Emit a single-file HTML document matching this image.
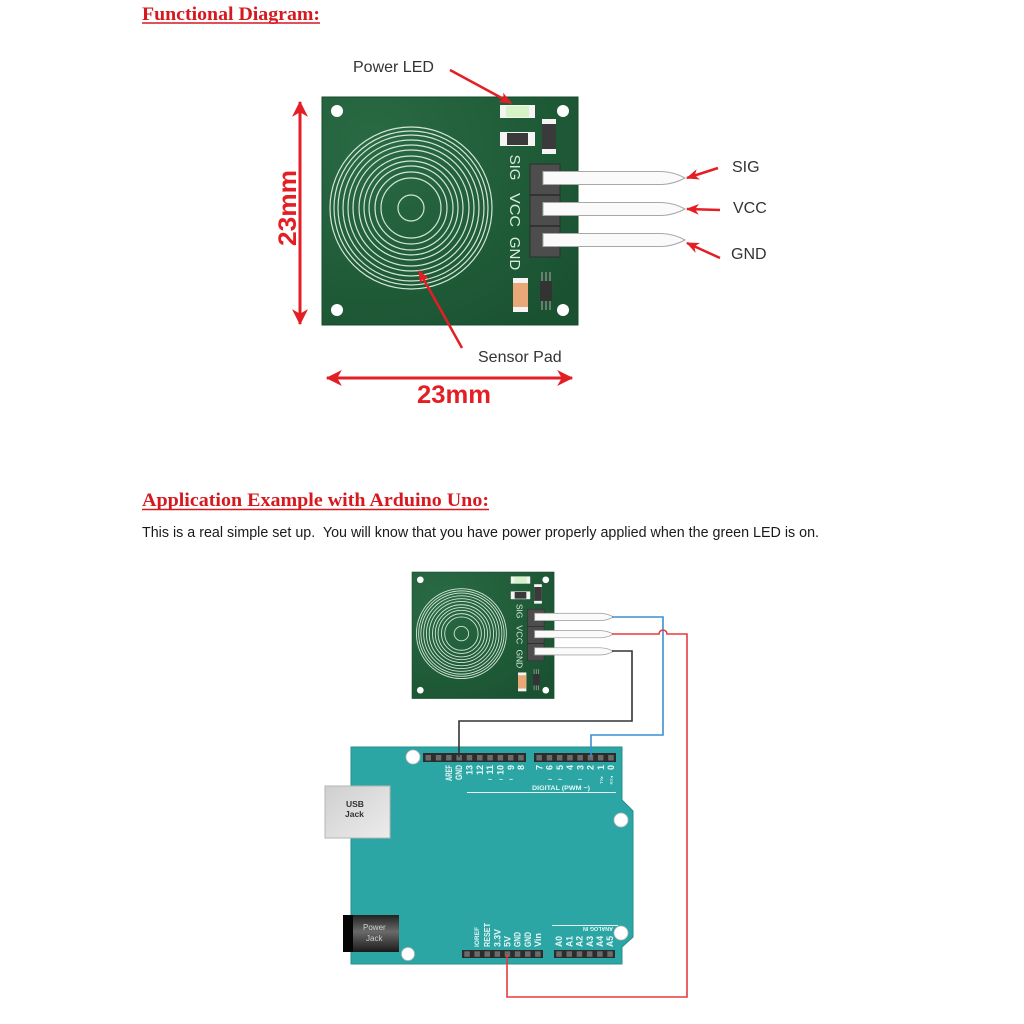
<!DOCTYPE html>
<html><head><meta charset="utf-8"><style>
html,body{margin:0;padding:0;background:#fff;}
svg{display:block;}
</style></head><body>
<svg width="1024" height="1024" viewBox="0 0 1024 1024" xmlns="http://www.w3.org/2000/svg">
<defs>
<radialGradient id="pcb" cx="0.2" cy="0.2" r="1">
<stop offset="0" stop-color="#296a43"/><stop offset="1" stop-color="#1a5231"/>
</radialGradient>
<linearGradient id="usb" x1="0" y1="0" x2="1" y2="1">
<stop offset="0" stop-color="#cfcfcf"/><stop offset="1" stop-color="#ececec"/>
</linearGradient>
<linearGradient id="pj" x1="0" y1="0" x2="0" y2="1">
<stop offset="0" stop-color="#222"/><stop offset="0.45" stop-color="#6a6a6a"/><stop offset="1" stop-color="#1a1a1a"/>
</linearGradient>
<marker id="ah" viewBox="0 0 12 10" refX="11" refY="5" markerWidth="13" markerHeight="11" markerUnits="userSpaceOnUse" orient="auto">
<path d="M0,0 L12,5 L0,10 L3.5,5 Z" fill="#e31e24"/>
</marker>
<marker id="dh" viewBox="0 0 14 14" refX="13" refY="7" markerWidth="16" markerHeight="16" markerUnits="userSpaceOnUse" orient="auto-start-reverse">
<path d="M0,0 L14,7 L0,14 L4,7 Z" fill="#e31e24"/>
</marker>
</defs>

<!-- Headings -->
<text x="142" y="20" font-family="Liberation Serif, serif" font-weight="bold" font-size="19" fill="#d7191f" textLength="178" lengthAdjust="spacingAndGlyphs">Functional Diagram:</text>
<line x1="142" y1="23" x2="320" y2="23" stroke="#d7191f" stroke-width="1.5"/>

<!-- Top board -->
<g transform="translate(322,97)">
<rect x="0" y="0" width="256" height="228" fill="url(#pcb)" stroke="#164a2b" stroke-width="1"/>
<circle cx="15" cy="14" r="6" fill="#fff"/><circle cx="241" cy="14" r="6" fill="#fff"/>
<circle cx="15" cy="213" r="6" fill="#fff"/><circle cx="241" cy="213" r="6" fill="#fff"/>
<g fill="none" stroke="#d3e6d8" stroke-width="1.2">
<circle cx="89" cy="111" r="13"/><circle cx="89" cy="111" r="30"/><circle cx="89" cy="111" r="36"/>
<circle cx="89" cy="111" r="42"/><circle cx="89" cy="111" r="47"/><circle cx="89" cy="111" r="52"/>
<circle cx="89" cy="111" r="58"/><circle cx="89" cy="111" r="63"/><circle cx="89" cy="111" r="68"/>
<circle cx="89" cy="111" r="73"/><circle cx="89" cy="111" r="77"/><circle cx="89" cy="111" r="81"/>
</g>
<rect x="178" y="8" width="35" height="13" fill="#f4f4f4"/>
<rect x="184" y="9" width="23" height="11" fill="#d6f3c8"/>
<rect x="178" y="35" width="35" height="14" fill="#f4f4f4"/>
<rect x="185" y="36" width="21" height="12" fill="#3a3a3a"/>
<rect x="220" y="22" width="14" height="35" fill="#f4f4f4"/>
<rect x="220" y="27" width="14" height="25" fill="#3a3a3a"/>
<rect x="208" y="67" width="30" height="93" fill="#4d4d4d" stroke="#2e2e2e"/>
<line x1="208" y1="98" x2="238" y2="98" stroke="#2b2b2b" stroke-width="1.5"/>
<line x1="208" y1="129" x2="238" y2="129" stroke="#2b2b2b" stroke-width="1.5"/>
<g fill="#fafafa" stroke="#a8a8a8" stroke-width="1">
<path d="M221,74.5 L340,74.5 Q352,75 363,81 Q352,87 340,87.5 L221,87.5 Z"/>
<path d="M221,105.5 L340,105.5 Q352,106 363,112 Q352,118 340,118.5 L221,118.5 Z"/>
<path d="M221,136.5 L340,136.5 Q352,137 363,143 Q352,149 340,149.5 L221,149.5 Z"/>
</g>
<g font-family="Liberation Sans, sans-serif" font-size="15" fill="#d8ecdc" text-anchor="middle">
<text transform="translate(188,70.5) rotate(90)">SIG</text>
<text transform="translate(188,113) rotate(90)" textLength="34" lengthAdjust="spacingAndGlyphs">VCC</text>
<text transform="translate(188,156.5) rotate(90)">GND</text>
</g>
<rect x="191" y="181" width="15" height="34" fill="#f4f4f4"/>
<rect x="191" y="186" width="15" height="24" fill="#e9a877"/>
<g stroke="#9a9a9a" stroke-width="1.2">
<line x1="220" y1="175" x2="220" y2="184"/><line x1="224" y1="175" x2="224" y2="184"/><line x1="228" y1="175" x2="228" y2="184"/>
<line x1="220" y1="204" x2="220" y2="213"/><line x1="224" y1="204" x2="224" y2="213"/><line x1="228" y1="204" x2="228" y2="213"/>
</g>
<rect x="218" y="184" width="12" height="20" fill="#333"/>
</g>

<!-- Dimension arrows -->
<line x1="300" y1="102" x2="300" y2="324" stroke="#e31e24" stroke-width="3" marker-start="url(#dh)" marker-end="url(#dh)"/>
<text transform="translate(296,208) rotate(-90)" text-anchor="middle" font-family="Liberation Sans, sans-serif" font-weight="bold" font-size="25" fill="#e31e24" textLength="76" lengthAdjust="spacingAndGlyphs">23mm</text>
<line x1="327" y1="378" x2="572" y2="378" stroke="#e31e24" stroke-width="3" marker-start="url(#dh)" marker-end="url(#dh)"/>
<text x="454" y="403" text-anchor="middle" font-family="Liberation Sans, sans-serif" font-weight="bold" font-size="25" fill="#e31e24" textLength="74" lengthAdjust="spacingAndGlyphs">23mm</text>

<!-- Labels -->
<g font-family="Liberation Sans, sans-serif" font-size="16" fill="#333">
<text x="353" y="72">Power LED</text>
<text x="478" y="362">Sensor Pad</text>
<text x="732" y="172">SIG</text>
<text x="733" y="213">VCC</text>
<text x="731" y="259">GND</text>
</g>
<g stroke="#e31e24" stroke-width="2.5" fill="none">
<line x1="450" y1="70" x2="511" y2="103" marker-end="url(#ah)"/>
<line x1="462" y1="348" x2="419" y2="271" marker-end="url(#ah)"/>
<line x1="718" y1="168" x2="687" y2="178" marker-end="url(#ah)"/>
<line x1="720" y1="210" x2="687" y2="209" marker-end="url(#ah)"/>
<line x1="720" y1="258" x2="687" y2="243" marker-end="url(#ah)"/>
</g>

<!-- Section 2 -->
<text x="142" y="506" font-family="Liberation Serif, serif" font-weight="bold" font-size="19" fill="#d7191f" textLength="347" lengthAdjust="spacingAndGlyphs">Application Example with Arduino Uno:</text>
<line x1="142" y1="509.5" x2="489" y2="509.5" stroke="#d7191f" stroke-width="1.5"/>
<text x="142" y="537" xml:space="preserve" font-family="Liberation Sans, sans-serif" font-size="14.5" fill="#1a1a1a" textLength="677" lengthAdjust="spacingAndGlyphs">This is a real simple set up.  You will know that you have power properly applied when the green LED is on.</text>

<!-- Small board -->
<g transform="translate(412,572) scale(0.555)">
<rect x="0" y="0" width="256" height="228" fill="url(#pcb)" stroke="#164a2b" stroke-width="1"/>
<circle cx="15" cy="14" r="6" fill="#fff"/><circle cx="241" cy="14" r="6" fill="#fff"/>
<circle cx="15" cy="213" r="6" fill="#fff"/><circle cx="241" cy="213" r="6" fill="#fff"/>
<g fill="none" stroke="#d3e6d8" stroke-width="1.6">
<circle cx="89" cy="111" r="13"/><circle cx="89" cy="111" r="30"/><circle cx="89" cy="111" r="36"/>
<circle cx="89" cy="111" r="42"/><circle cx="89" cy="111" r="47"/><circle cx="89" cy="111" r="52"/>
<circle cx="89" cy="111" r="58"/><circle cx="89" cy="111" r="63"/><circle cx="89" cy="111" r="68"/>
<circle cx="89" cy="111" r="73"/><circle cx="89" cy="111" r="77"/><circle cx="89" cy="111" r="81"/>
</g>
<rect x="178" y="8" width="35" height="13" fill="#f4f4f4"/>
<rect x="184" y="9" width="23" height="11" fill="#d6f3c8"/>
<rect x="178" y="35" width="35" height="14" fill="#f4f4f4"/>
<rect x="185" y="36" width="21" height="12" fill="#3a3a3a"/>
<rect x="220" y="22" width="14" height="35" fill="#f4f4f4"/>
<rect x="220" y="27" width="14" height="25" fill="#3a3a3a"/>
<rect x="208" y="67" width="30" height="93" fill="#4d4d4d" stroke="#2e2e2e"/>
<line x1="208" y1="98" x2="238" y2="98" stroke="#2b2b2b" stroke-width="1.5"/>
<line x1="208" y1="129" x2="238" y2="129" stroke="#2b2b2b" stroke-width="1.5"/>
<g fill="#fafafa" stroke="#a8a8a8" stroke-width="1.5">
<path d="M221,74.5 L340,74.5 Q352,75 363,81 Q352,87 340,87.5 L221,87.5 Z"/>
<path d="M221,105.5 L340,105.5 Q352,106 363,112 Q352,118 340,118.5 L221,118.5 Z"/>
<path d="M221,136.5 L340,136.5 Q352,137 363,143 Q352,149 340,149.5 L221,149.5 Z"/>
</g>
<g font-family="Liberation Sans, sans-serif" font-size="15" fill="#d8ecdc" text-anchor="middle">
<text transform="translate(188,70.5) rotate(90)">SIG</text>
<text transform="translate(188,113) rotate(90)" textLength="34" lengthAdjust="spacingAndGlyphs">VCC</text>
<text transform="translate(188,156.5) rotate(90)">GND</text>
</g>
<rect x="191" y="181" width="15" height="34" fill="#f4f4f4"/>
<rect x="191" y="186" width="15" height="24" fill="#e9a877"/>
<g stroke="#9a9a9a" stroke-width="1.5">
<line x1="220" y1="175" x2="220" y2="184"/><line x1="224" y1="175" x2="224" y2="184"/><line x1="228" y1="175" x2="228" y2="184"/>
<line x1="220" y1="204" x2="220" y2="213"/><line x1="224" y1="204" x2="224" y2="213"/><line x1="228" y1="204" x2="228" y2="213"/>
</g>
<rect x="218" y="184" width="12" height="20" fill="#333"/>
</g>

<!-- Arduino -->
<path d="M351,747 L622,747 L622,800 L633,811 L633,937 L622,947 L622,964 L351,964 Z" fill="#2ba6a4" stroke="#23908e" stroke-width="1"/>
<circle cx="413" cy="757" r="7" fill="#fff" stroke="#bbb" stroke-width="0.8"/>
<circle cx="621" cy="820" r="7" fill="#fff" stroke="#bbb" stroke-width="0.8"/>
<circle cx="621" cy="933" r="7" fill="#fff" stroke="#bbb" stroke-width="0.8"/>
<circle cx="408" cy="954" r="6.5" fill="#fff" stroke="#bbb" stroke-width="0.8"/>

<!-- USB jack -->
<rect x="325" y="786" width="65" height="52" fill="url(#usb)" stroke="#b5b5b5" stroke-width="1"/>
<g font-family="Liberation Sans, sans-serif" font-weight="bold" font-size="8.5" fill="#333">
<text x="346" y="807">USB</text>
<text x="345" y="817">Jack</text>
</g>
<!-- Power jack -->
<rect x="343" y="915" width="56" height="37" fill="url(#pj)"/>
<rect x="343" y="915" width="10" height="37" fill="#050505"/>
<g font-family="Liberation Sans, sans-serif" font-size="8" fill="#cfcfcf">
<text x="363" y="930">Power</text>
<text x="366" y="941">Jack</text>
</g>

<!-- Headers -->
<g>
<rect x="423" y="753" width="103" height="9" fill="#2c2c2c"/>
<rect x="534" y="753" width="82" height="9" fill="#2c2c2c"/>
<rect x="462" y="950" width="81" height="8" fill="#2c2c2c"/>
<rect x="554" y="950" width="61" height="8" fill="#2c2c2c"/>
<g fill="#6b6b6b">
<rect x="425.5" y="755" width="5.5" height="5.5"/><rect x="435.8" y="755" width="5.5" height="5.5"/><rect x="446.1" y="755" width="5.5" height="5.5"/><rect x="456.4" y="755" width="5.5" height="5.5"/><rect x="466.7" y="755" width="5.5" height="5.5"/><rect x="477" y="755" width="5.5" height="5.5"/><rect x="487.3" y="755" width="5.5" height="5.5"/><rect x="497.6" y="755" width="5.5" height="5.5"/><rect x="507.9" y="755" width="5.5" height="5.5"/><rect x="518.2" y="755" width="5.5" height="5.5"/>
<rect x="536.4" y="755" width="5.5" height="5.5"/><rect x="546.7" y="755" width="5.5" height="5.5"/><rect x="556.9" y="755" width="5.5" height="5.5"/><rect x="567.2" y="755" width="5.5" height="5.5"/><rect x="577.4" y="755" width="5.5" height="5.5"/><rect x="587.7" y="755" width="5.5" height="5.5"/><rect x="597.9" y="755" width="5.5" height="5.5"/><rect x="608.2" y="755" width="5.5" height="5.5"/>
<rect x="464.3" y="951.3" width="5.5" height="5.5"/><rect x="474.4" y="951.3" width="5.5" height="5.5"/><rect x="484.5" y="951.3" width="5.5" height="5.5"/><rect x="494.6" y="951.3" width="5.5" height="5.5"/><rect x="504.7" y="951.3" width="5.5" height="5.5"/><rect x="514.8" y="951.3" width="5.5" height="5.5"/><rect x="525" y="951.3" width="5.5" height="5.5"/><rect x="535.1" y="951.3" width="5.5" height="5.5"/>
<rect x="556.3" y="951.3" width="5.5" height="5.5"/><rect x="566.5" y="951.3" width="5.5" height="5.5"/><rect x="576.7" y="951.3" width="5.5" height="5.5"/><rect x="586.9" y="951.3" width="5.5" height="5.5"/><rect x="597.1" y="951.3" width="5.5" height="5.5"/><rect x="607.3" y="951.3" width="5.5" height="5.5"/>
</g>
</g>

<!-- Top labels -->
<g font-family="Liberation Sans, sans-serif" font-weight="bold" font-size="9" fill="#eaf7f6" text-anchor="end">
<text transform="translate(452,765) rotate(-90)" textLength="16" lengthAdjust="spacingAndGlyphs">AREF</text>
<text transform="translate(462,765) rotate(-90)" textLength="15" lengthAdjust="spacingAndGlyphs">GND</text>
<text transform="translate(472.5,765) rotate(-90)">13</text>
<text transform="translate(483,765) rotate(-90)">12</text>
<text transform="translate(493,765) rotate(-90)">11</text>
<text transform="translate(503.5,765) rotate(-90)">10</text>
<text transform="translate(514,765) rotate(-90)">9</text>
<text transform="translate(524,765) rotate(-90)">8</text>
<text transform="translate(542.5,765) rotate(-90)">7</text>
<text transform="translate(552.5,765) rotate(-90)">6</text>
<text transform="translate(563,765) rotate(-90)">5</text>
<text transform="translate(573,765) rotate(-90)">4</text>
<text transform="translate(583.5,765) rotate(-90)">3</text>
<text transform="translate(593.5,765) rotate(-90)">2</text>
<text transform="translate(604,765) rotate(-90)">1</text>
<text transform="translate(614,765) rotate(-90)">0</text>
</g>
<g font-family="Liberation Sans, sans-serif" font-weight="bold" font-size="7" fill="#eaf7f6" text-anchor="middle">
<text x="490" y="782">~</text><text x="501" y="782">~</text><text x="511" y="782">~</text>
<text x="550" y="782">~</text><text x="560" y="782">~</text><text x="580" y="782">~</text>
</g>
<g font-family="Liberation Sans, sans-serif" font-size="4.5" fill="#eaf7f6" text-anchor="end">
<text transform="translate(603,776) rotate(-90)">TX▸</text>
<text transform="translate(613,776) rotate(-90)">RX◂</text>
</g>
<text x="532" y="790" font-family="Liberation Sans, sans-serif" font-weight="bold" font-size="6.5" fill="#eaf7f6" textLength="58" lengthAdjust="spacingAndGlyphs">DIGITAL  (PWM ~)</text>
<line x1="467" y1="792.5" x2="616" y2="792.5" stroke="#eaf7f6" stroke-width="1"/>

<!-- Bottom labels -->
<g font-family="Liberation Sans, sans-serif" font-weight="bold" font-size="9" fill="#eaf7f6">
<text transform="translate(479,947) rotate(-90)" font-size="6.5" textLength="20" lengthAdjust="spacingAndGlyphs">IOREF</text>
<text transform="translate(490,947) rotate(-90)" font-size="8" textLength="24" lengthAdjust="spacingAndGlyphs">RESET</text>
<text transform="translate(500.5,947) rotate(-90)" textLength="18" lengthAdjust="spacingAndGlyphs">3.3V</text>
<text transform="translate(510.5,947) rotate(-90)" textLength="11" lengthAdjust="spacingAndGlyphs">5V</text>
<text transform="translate(520.5,947) rotate(-90)" textLength="15" lengthAdjust="spacingAndGlyphs">GND</text>
<text transform="translate(531,947) rotate(-90)" textLength="15" lengthAdjust="spacingAndGlyphs">GND</text>
<text transform="translate(541,947) rotate(-90)" textLength="14" lengthAdjust="spacingAndGlyphs">Vin</text>
<text transform="translate(562,947) rotate(-90)" textLength="11" lengthAdjust="spacingAndGlyphs">A0</text>
<text transform="translate(572.5,947) rotate(-90)" textLength="11" lengthAdjust="spacingAndGlyphs">A1</text>
<text transform="translate(582.5,947) rotate(-90)" textLength="11" lengthAdjust="spacingAndGlyphs">A2</text>
<text transform="translate(593,947) rotate(-90)" textLength="11" lengthAdjust="spacingAndGlyphs">A3</text>
<text transform="translate(603,947) rotate(-90)" textLength="11" lengthAdjust="spacingAndGlyphs">A4</text>
<text transform="translate(613,947) rotate(-90)" textLength="11" lengthAdjust="spacingAndGlyphs">A5</text>
</g>
<line x1="552" y1="925.5" x2="618" y2="925.5" stroke="#eaf7f6" stroke-width="1"/>
<text transform="translate(613,927) rotate(180)" font-family="Liberation Sans, sans-serif" font-weight="bold" font-size="5" fill="#eaf7f6" textLength="30" lengthAdjust="spacingAndGlyphs">ANALOG IN</text>

<!-- Wires -->
<g fill="none" stroke-width="1.6">
<path d="M612,651 H632 V721 H459 V757" stroke="#333"/>
<path d="M612,617 H663 V735 H591 V757" stroke="#3b8fd1"/>
<path d="M612,634 H659 A4,4 0 0 1 667,634 H687 V997 H507 V955" stroke="#e83a3c"/>
</g>
</svg>
</body></html>
